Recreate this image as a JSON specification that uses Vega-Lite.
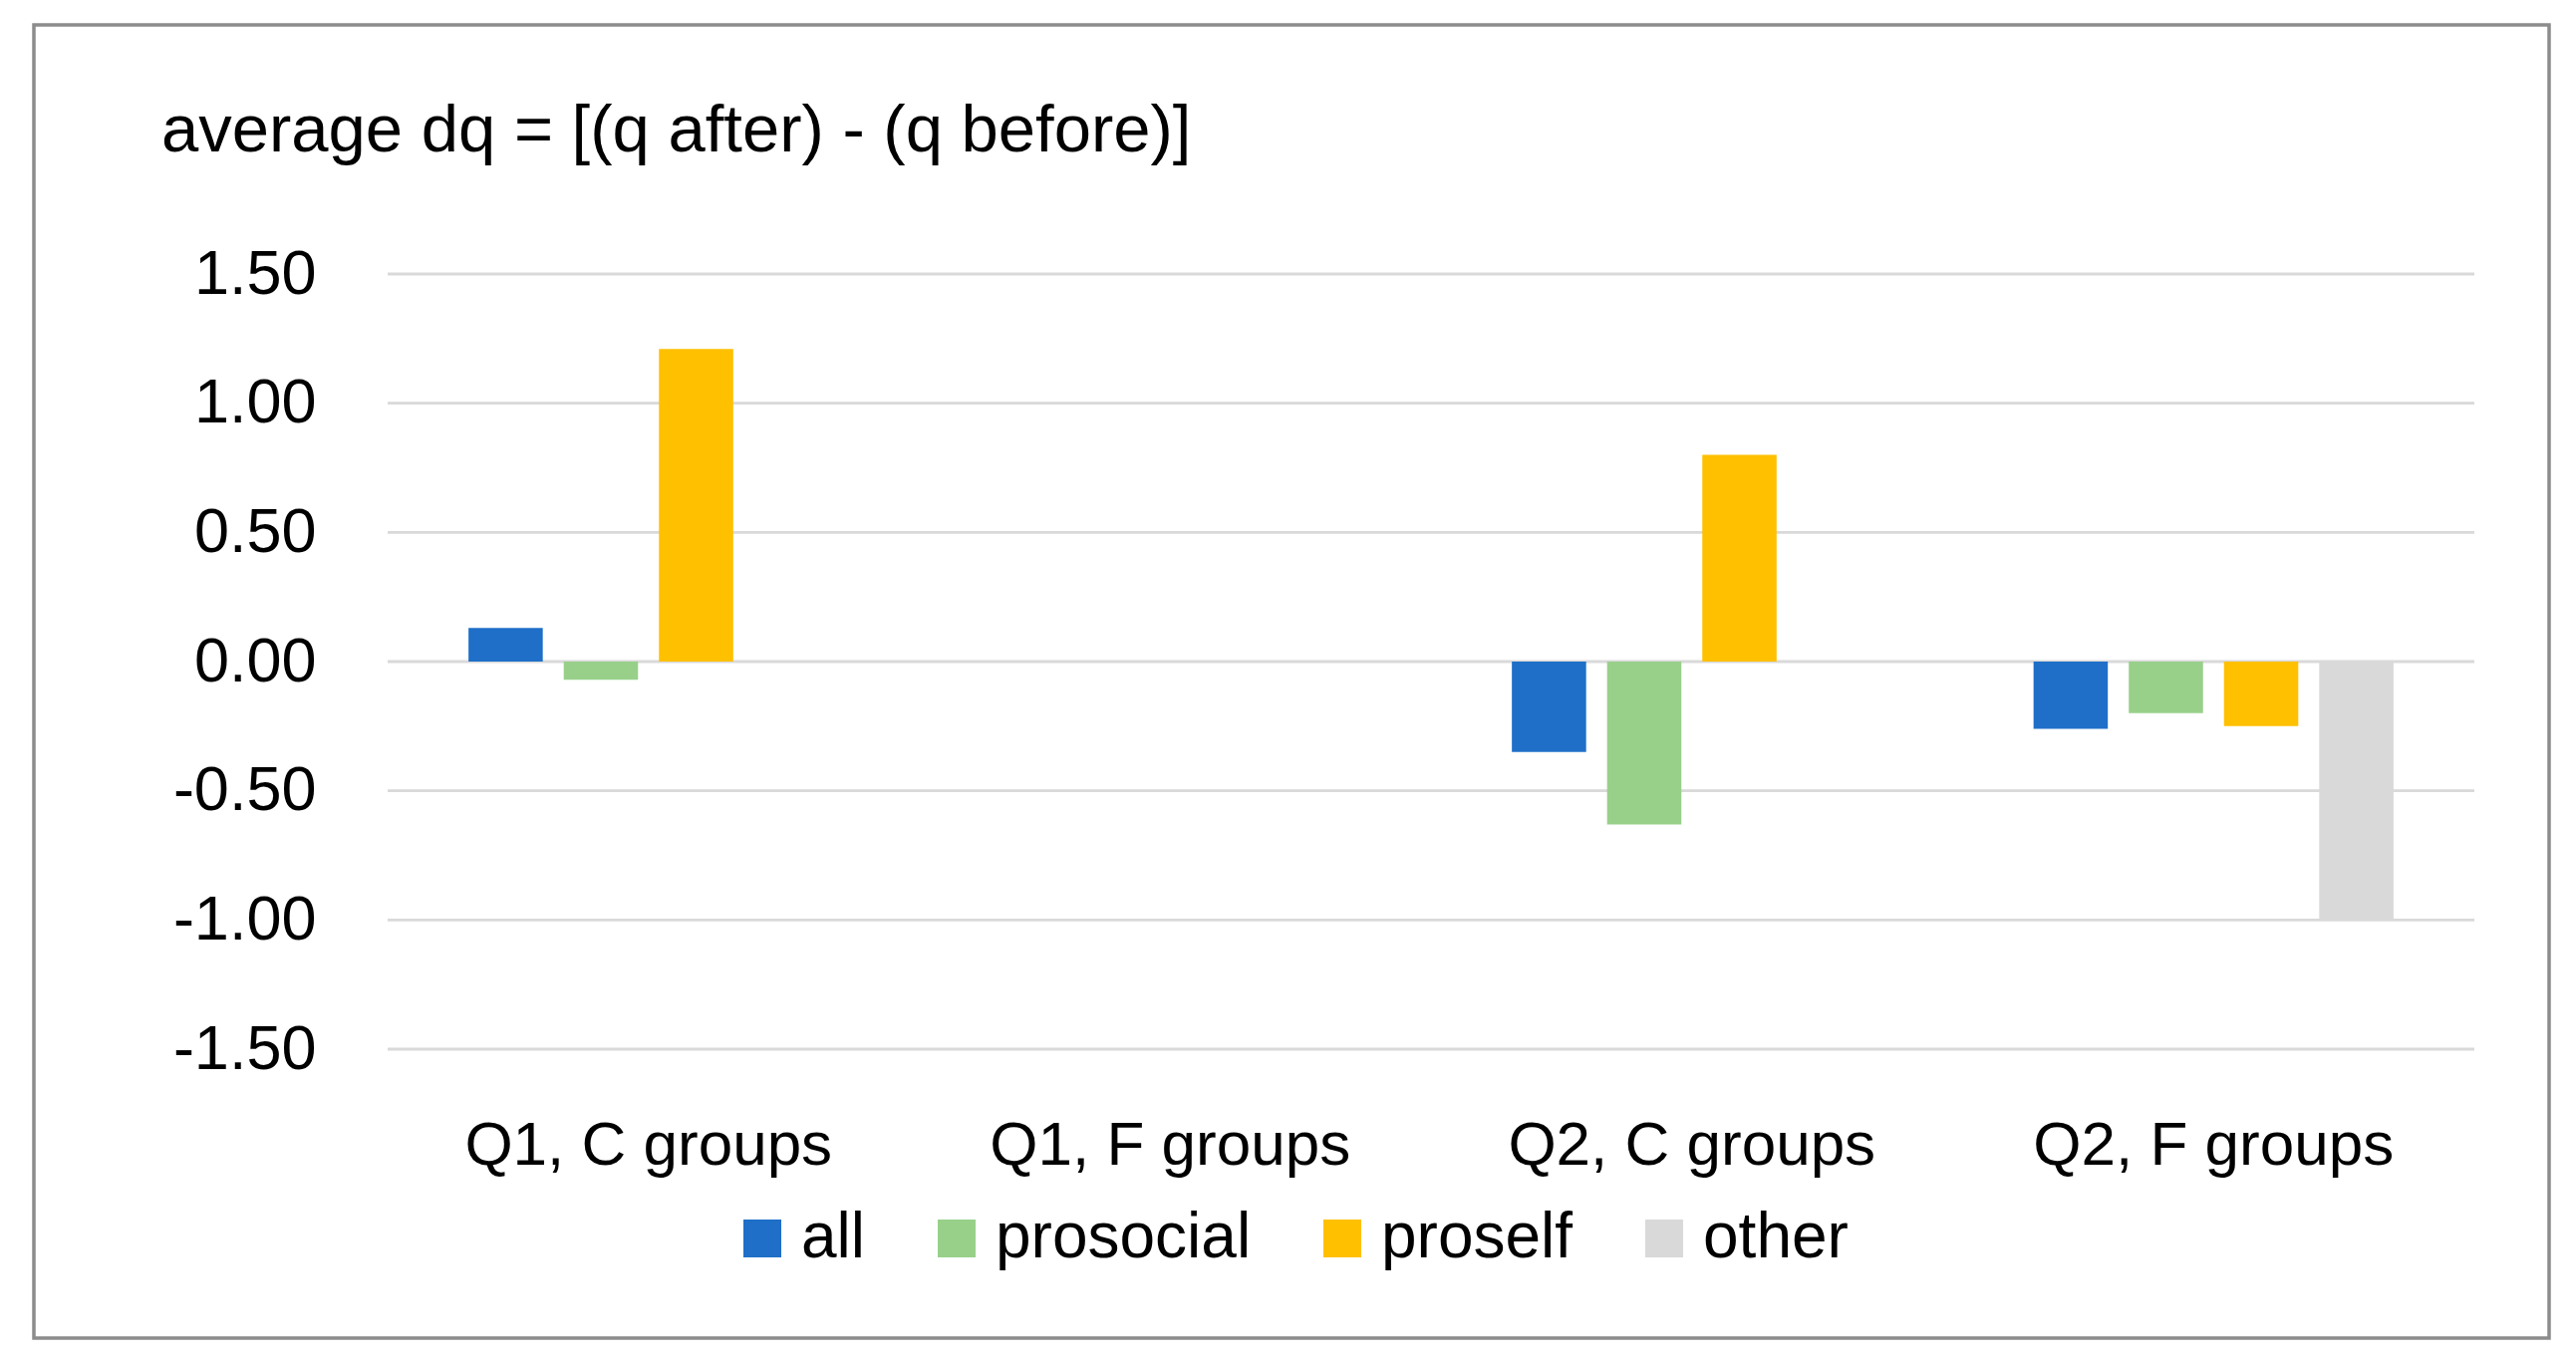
{
  "$schema": "https://vega.github.io/schema/vega-lite/v6.json",
  "width": 2524,
  "height": 1318,
  "autosize": {"type": "none"},
  "padding": {"left": 34, "top": 25, "right": 27, "bottom": 24},
  "background": "white",
  "title": {
    "text": "average dq = [(q after) - (q before)]",
    "orient": "top",
    "anchor": "start",
    "frame": "group",
    "offset": -194,
    "dx": 128,
    "baseline": "alphabetic",
    "font": "Liberation Sans",
    "fontSize": 67,
    "fontWeight": "normal",
    "color": "#000000",
    "limit": 0
  },
  "config": {
    "view": {"stroke": "#8C8C8C", "strokeWidth": 3.5},
    "font": "Liberation Sans"
  },
  "datasets": {
    "grid": [
      {"g": 1.5}, {"g": 1.0}, {"g": 0.5}, {"g": 0.0}, {"g": -0.5}, {"g": -1.0}, {"g": -1.5}
    ],
    "bars": [
      {"group": "Q1, C groups", "series": "all", "value": 0.13},
      {"group": "Q1, C groups", "series": "prosocial", "value": -0.07},
      {"group": "Q1, C groups", "series": "proself", "value": 1.21},
      {"group": "Q2, C groups", "series": "all", "value": -0.35},
      {"group": "Q2, C groups", "series": "prosocial", "value": -0.63},
      {"group": "Q2, C groups", "series": "proself", "value": 0.80},
      {"group": "Q2, F groups", "series": "all", "value": -0.26},
      {"group": "Q2, F groups", "series": "prosocial", "value": -0.20},
      {"group": "Q2, F groups", "series": "proself", "value": -0.25},
      {"group": "Q2, F groups", "series": "other", "value": -1.00}
    ]
  },
  "layer": [
    {
      "data": {"name": "grid"},
      "mark": {"type": "rule", "color": "#D9D9D9", "strokeWidth": 2.8},
      "encoding": {
        "y": {"field": "g", "type": "quantitative",
              "scale": {"domain": [-1.5, 1.5], "range": [1028, 250], "nice": false, "zero": false},
              "axis": {"title": null, "orient": "left", "offset": -283, "values": [-1.5, -1, -0.5, 0, 0.5, 1, 1.5],
                       "labelExpr": "replace(format(datum.value, '.2f'), '\u2212', '-')",
                       "labelFont": "Liberation Sans", "labelFontSize": 63, "labelColor": "#000000",
                       "labelPadding": 0, "ticks": false, "tickSize": 0, "domain": false, "grid": false,
                       "labelBaseline": "middle", "labelAlign": "right", "labelLimit": 0}},
        "x": {"datum": 0, "type": "quantitative", "scale": {"domain": [0, 1], "range": [355, 2449]}, "axis": null},
        "x2": {"datum": 1}
      }
    },
    {
      "data": {"name": "bars"},
      "mark": {"type": "bar"},
      "encoding": {
        "x": {"field": "group", "type": "nominal", "sort": null,
              "scale": {"domain": ["Q1, C groups", "Q1, F groups", "Q2, C groups", "Q2, F groups"],
                        "range": [355, 2449], "paddingInner": 0.31, "paddingOuter": 0.155},
              "axis": {"title": null, "orient": "bottom", "offset": -175, "labelAngle": 0,
                       "labelFont": "Liberation Sans", "labelFontSize": 62, "labelColor": "#000000",
                       "labelPadding": 0, "ticks": false, "tickSize": 0, "domain": false, "grid": false,
                       "labelBaseline": "alphabetic", "labelAlign": "center", "labelLimit": 0}},
        "xOffset": {"field": "series", "type": "nominal",
                    "scale": {"domain": ["all", "prosocial", "proself", "other"], "paddingInner": 0.22, "paddingOuter": 0}},
        "y": {"field": "value", "type": "quantitative"},
        "color": {"field": "series", "type": "nominal",
                  "scale": {"domain": ["all", "prosocial", "proself", "other"],
                            "range": ["#1F6FC8", "#98D08A", "#FFC000", "#D9D9D9"]},
                  "legend": {"title": null, "orient": "none", "direction": "horizontal",
                             "legendX": 699, "legendY": 1186, "padding": 0,
                             "symbolType": "square", "symbolSize": 1444, "symbolOpacity": 1,
                             "symbolStrokeWidth": 0, "labelFont": "Liberation Sans", "labelFontSize": 64,
                             "labelColor": "#000000", "labelOffset": 7, "columnPadding": 59, "labelLimit": 0}}
      }
    }
  ],
  "resolve": {"scale": {"x": "independent"}, "axis": {"x": "independent"}}
}
